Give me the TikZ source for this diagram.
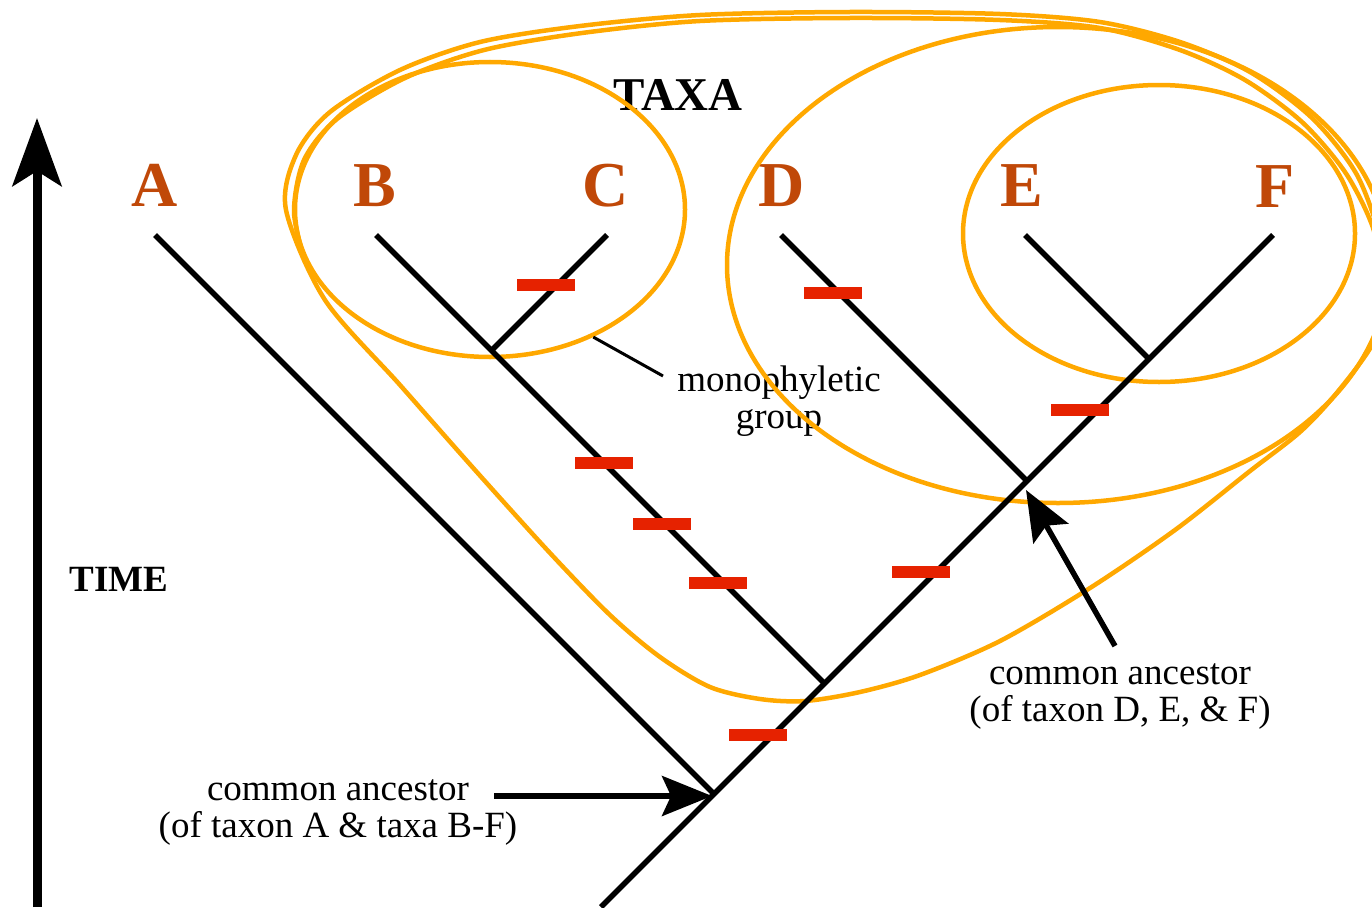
\documentclass[tikz,border=0pt]{standalone}
\usepackage{fontspec}
\setmainfont{Liberation Serif}
\usetikzlibrary{arrows.meta,shapes.geometric}
\definecolor{taxonbrown}{RGB}{192,72,8}
\definecolor{groupgold}{RGB}{255,168,0}
\definecolor{traitred}{RGB}{230,34,0}

\begin{document}
\begin{tikzpicture}[x=1pt,y=-1pt,
  branch/.style={line width=5.5pt, black},
  taxon/.style={font=\fontsize{64}{64}\selectfont\bfseries, text=taxonbrown, anchor=base, inner sep=0pt},
  heading/.style={font=\fontsize{47}{47}\selectfont\bfseries, anchor=base, inner sep=0pt},
  caption/.style={font=\fontsize{37}{37}\selectfont, align=center, inner sep=0pt},
  grp/.style={draw=groupgold, line width=4.5pt, ellipse, inner sep=0pt},
  loopline/.style={draw=groupgold, line width=4.5pt},
  trait/.style={fill=traitred, minimum width=58pt, minimum height=12pt, inner sep=0pt},
  pointer/.style={line width=5.5pt, -{Stealth[length=50pt,width=40pt,inset=9pt]}},
  timeaxis/.style={line width=9pt, -{Stealth[length=68pt,width=49pt,inset=15pt]}},
]
\useasboundingbox (0,0) rectangle (1372,907);
\clip (0,0) rectangle (1372,907);

% labels
\node[heading] (taxaLbl) at (678,110) {TAXA};
\node[heading, font=\fontsize{37}{37}\selectfont\bfseries] (timeLbl) at (119,591) {TIME};
\node[caption] (monoLbl) at (779,401) {monophyletic\\group};
\node[caption] (ancAlbl) at (338,813) {common ancestor\\(of taxon A \& taxa B-F)};
\node[caption] (ancDlbl) at (1120,697) {common ancestor\\(of taxon D, E, \& F)};

\node[taxon] (lA) at (155,206) {A};
\node[taxon] (lB) at (375,206) {B};
\node[taxon] (lC) at (606,206) {C};
\node[taxon] (lD) at (782,206) {D};
\node[taxon] (lE) at (1022,206) {E};
\node[taxon] (lF) at (1275,207) {F};

% groups
\node[grp, minimum width=390pt, minimum height=295pt] (grpBC) at (490,209.5) {};
\node[grp, minimum width=392pt, minimum height=297pt] (grpEF) at (1159,233.5) {};
\node[grp, minimum width=662pt, minimum height=476pt] (grpDEF) at (1058,265) {};

% hand-drawn outline round taxa B-F
\draw[loopline] plot[smooth cycle, tension=0.5] coordinates {
  (286,210) (296,155) (330,112) (400,70) (480,42) (580,26) (700,15) (850,12)
  (1000,14) (1100,22) (1180,42) (1250,72) (1312,118) (1357,175) (1382,245)
  (1386,300) (1372,345) (1335,395) (1300,432) (1250,471) (1175,530) (1090,588)
  (1000,641) (920,675) (860,692) (805,701) (760,699) (710,687) (660,657)
  (610,615) (550,553) (475,470) (400,385) (325,300)};
\draw[loopline] plot[smooth, tension=0.5] coordinates {
  (305,262) (294,212) (304,160) (337,119) (405,78) (484,50) (582,33) (700,21)
  (850,18) (1000,20) (1100,28) (1180,50) (1245,80) (1302,122) (1345,172)
  (1372,225) (1385,280)};

% tree
\coordinate (root) at (601,907);
\coordinate (nAB) at (714,794);
\coordinate (nB) at (824.5,683.5);
\coordinate (nBC) at (491.5,350.5);
\coordinate (nD) at (1027,481);
\coordinate (nE) at (1149,359);
\coordinate (tA) at (155,235);
\coordinate (tB) at (376,235);
\coordinate (tC) at (607,235);
\coordinate (tD) at (781,235);
\coordinate (tE) at (1025,235);
\coordinate (tF) at (1273,235);

\draw[branch] (root) -- (tF);
\draw[branch] (tA) -- (nAB);
\draw[branch] (tB) -- (nB);
\draw[branch] (tC) -- (nBC);
\draw[branch] (tD) -- (nD);
\draw[branch] (tE) -- (nE);

% character changes
\node[trait] (m1) at (546,285) {};
\node[trait] (m2) at (604,463) {};
\node[trait] (m3) at (662,524) {};
\node[trait] (m4) at (718,583) {};
\node[trait] (m5) at (833,293) {};
\node[trait] (m6) at (1080,410) {};
\node[trait] (m7) at (921,572) {};
\node[trait] (m8) at (758,735) {};

% pointers
\coordinate (monoTip) at (663,376);
\draw[line width=3pt] (grpBC.-51) -- (monoTip);
\coordinate (ancAstart) at (494,796);
\coordinate (ancAtip) at (712,796);
\draw[pointer] (ancAstart) -- (ancAtip);
\coordinate (ancDstart) at (1115,646);
\coordinate (ancDtip) at (1026,490);
\draw[pointer] (ancDstart) -- (ancDtip);

% time axis
\coordinate (timeBot) at (37,907);
\coordinate (timeTop) at (37,118);
\draw[timeaxis] (timeBot) -- (timeTop);
\end{tikzpicture}
\end{document}
